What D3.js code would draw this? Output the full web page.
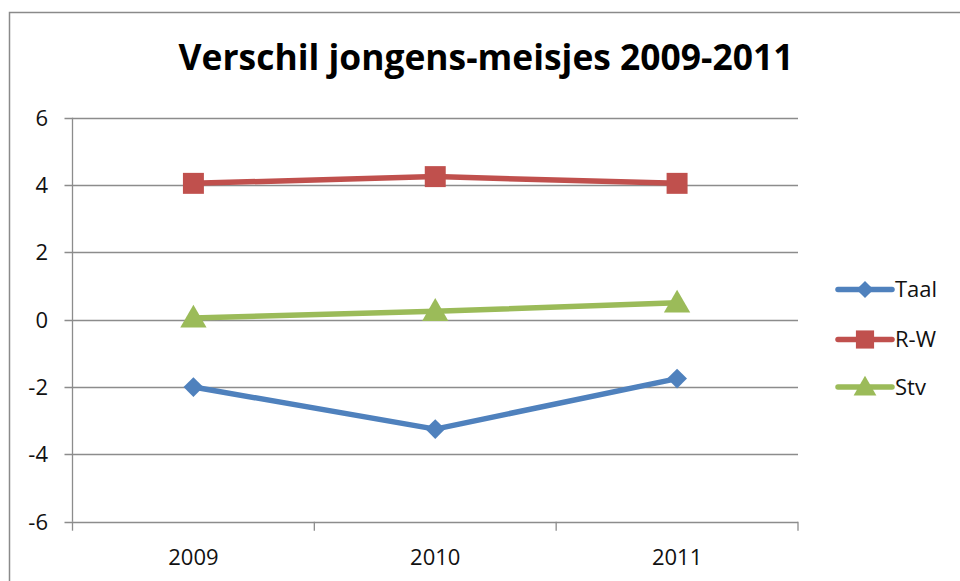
<!DOCTYPE html>
<html lang="nl">
<head>
    <meta charset="UTF-8" />
    <title>Verschil jongens-meisjes 2009-2011</title>
    <script src="https://d3js.org/d3.v7.min.js"></script>
    <style>
        body {
            margin: 0;
            background: #fff;
        }

        svg {
            display: block;
            font-family: "Open Sans", "Liberation Sans", sans-serif;
        }

        .grid line {
            stroke: #8c8c8c;
            stroke-width: 1.3px;
        }

        .tick-label {
            font-size: 22px;
            fill: #111;
        }

        .series-line {
            fill: none;
            stroke-width: 5.5px;
            stroke-linejoin: round;
        }
    </style>
</head>
<body>
    <svg width="960" height="581"></svg>

    <script>
        const years = ["2009", "2010", "2011"];
        const seriesNames = ["Taal", "R-W", "Stv"];
        const taal = [-2.0, -3.25, -1.75];
        const rw = [4.05, 4.25, 4.05];
        const stv = [0.05, 0.25, 0.5];
        const yTicks = [-6, -4, -2, 0, 2, 4, 6];

        const colors = { "Taal": "#4f81bd", "R-W": "#c0504d", "Stv": "#9bbb59" };
        const symbols = { "Taal": d3.symbolDiamond2, "R-W": d3.symbolSquare, "Stv": d3.symbolTriangle };
        const symbolSize = { "Taal": 250, "R-W": 440, "Stv": 300 };
        const values = { "Taal": taal, "R-W": rw, "Stv": stv };

        const svg = d3.select("svg");

        // chart frame
        svg.append("rect")
            .attr("x", 9.5).attr("y", 12.5)
            .attr("width", 980).attr("height", 600)
            .attr("fill", "none")
            .attr("stroke", "#8a8a8a")
            .attr("stroke-width", 1.5);

        const plotLeft = 72.5, plotRight = 798, plotTop = 117.7, plotBottom = 521.7;

        const x = d3.scaleBand().domain(years).range([plotLeft, plotRight]);
        const y = d3.scaleLinear().domain([-6, 6]).range([plotBottom, plotTop]);

        // title
        const title = svg.append("text")
            .attr("x", 486)
            .attr("y", 69.5)
            .attr("text-anchor", "middle")
            .attr("font-weight", "bold")
            .attr("font-size", 34)
            .attr("fill", "#000")
            .text("Verschil jongens-meisjes 2009-2011");
        const tw = title.node().getComputedTextLength();
        title.attr("font-size", 34 * 615 / tw);

        // horizontal gridlines + y ticks
        const grid = svg.append("g").attr("class", "grid");
        grid.selectAll("line.h")
            .data(yTicks)
            .join("line")
            .attr("class", "h")
            .attr("x1", plotLeft - 8).attr("x2", plotRight)
            .attr("y1", d => Math.round(y(d)) + 0.5)
            .attr("y2", d => Math.round(y(d)) + 0.5);

        // y axis
        grid.append("line")
            .attr("x1", plotLeft).attr("x2", plotLeft)
            .attr("y1", plotTop).attr("y2", plotBottom);

        // x category ticks at band edges
        const edges = years.map(d => x(d)).concat([plotRight]);
        grid.selectAll("line.xt")
            .data(edges)
            .join("line")
            .attr("class", "xt")
            .attr("x1", d => d).attr("x2", d => d)
            .attr("y1", plotBottom).attr("y2", plotBottom + 9);

        svg.selectAll("text.ylab")
            .data(yTicks)
            .join("text")
            .attr("class", "tick-label ylab")
            .attr("x", 48)
            .attr("y", d => y(d))
            .attr("dy", "0.36em")
            .attr("text-anchor", "end")
            .text(d => d);

        svg.selectAll("text.xlab")
            .data(years)
            .join("text")
            .attr("class", "tick-label xlab")
            .attr("x", d => x(d) + x.bandwidth() / 2)
            .attr("y", 565)
            .attr("text-anchor", "middle")
            .text(d => d);

        // series
        const line = d3.line()
            .x((d, i) => x(years[i]) + x.bandwidth() / 2)
            .y(d => y(d));

        const plot = svg.append("g");
        seriesNames.forEach(name => {
            plot.append("path")
                .attr("class", "series-line")
                .attr("stroke", colors[name])
                .attr("d", line(values[name]));
        });
        seriesNames.forEach(name => {
            plot.selectAll(null)
                .data(values[name])
                .join("path")
                .attr("fill", colors[name])
                .attr("transform", (d, i) => `translate(${x(years[i]) + x.bandwidth() / 2},${y(d) + (name === "Stv" ? 2 : 0)})`)
                .attr("d", d3.symbol().type(symbols[name]).size(symbolSize[name]));
        });

        // legend
        const legend = svg.append("g");
        const legendY = [289.5, 339.5, 387];
        seriesNames.forEach((name, i) => {
            const g = legend.append("g").attr("transform", `translate(0,${legendY[i]})`);
            g.append("line")
                .attr("x1", 838).attr("x2", 892)
                .attr("stroke", colors[name])
                .attr("stroke-width", 5.5)
                .attr("stroke-linecap", "round");
            g.append("path")
                .attr("fill", colors[name])
                .attr("transform", `translate(865,${name === "Stv" ? 2 : 0})`)
                .attr("d", d3.symbol().type(symbols[name]).size(symbolSize[name] * 0.75));
            g.append("text")
                .attr("class", "tick-label")
                .attr("x", 895)
                .attr("dy", "0.36em")
                .text(name);
        });
    </script>
</body>
</html>
